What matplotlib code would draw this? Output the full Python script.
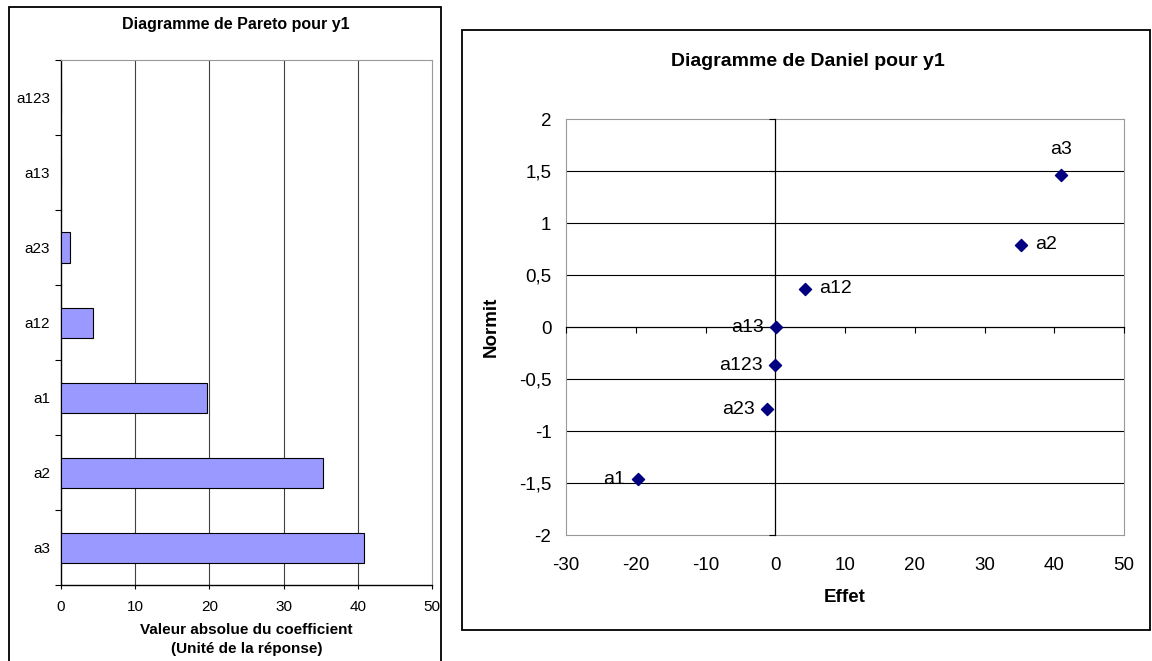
import matplotlib.pyplot as plt
from matplotlib.patches import Rectangle
from matplotlib.ticker import FuncFormatter, MultipleLocator

plt.rcParams['font.family'] = ['Liberation Sans', 'DejaVu Sans']

# Pareto chart: absolute coefficient values, bottom to top
pareto_labels = ['a3', 'a2', 'a1', 'a12', 'a23', 'a13', 'a123']
pareto_values = [40.9, 35.3, 19.7, 4.3, 1.2, 0.05, 0.0]

# Daniel chart: effects and normal scores
daniel_labels = ['a1', 'a23', 'a123', 'a13', 'a12', 'a2', 'a3']
daniel_effects = [-19.7, -1.2, 0.0, 0.1, 4.3, 35.3, 41.0]
daniel_normit = [-1.465, -0.792, -0.366, 0.0, 0.366, 0.792, 1.465]

W, H = 1152, 661
fig = plt.figure(figsize=(W / 100, H / 100), dpi=100)


def px_rect(x0, y0, x1, y1):
    return [x0 / W, 1 - y1 / H, (x1 - x0) / W, (y1 - y0) / H]


# chart boxes
for (x0, y0, x1, y1) in [(9, 7, 441, 670), (462, 30, 1150, 630)]:
    fig.patches.append(Rectangle((x0 / W, 1 - y1 / H), (x1 - x0) / W, (y1 - y0) / H,
                                 transform=fig.transFigure, fill=False,
                                 edgecolor='black', linewidth=1.3))

# ---------- Pareto ----------
ax1 = fig.add_axes(px_rect(61, 60, 432, 585))
ypos = range(len(pareto_labels))
ax1.barh(ypos, pareto_values, height=0.4, color='#9999ff', edgecolor='black',
         linewidth=0.8, zorder=3)
ax1.set_xlim(0, 50)
ax1.set_ylim(-0.5, len(pareto_labels) - 0.5)
ax1.xaxis.set_major_locator(MultipleLocator(10))
ax1.set_yticks(list(ypos))
ax1.set_yticklabels(pareto_labels)
ax1.set_yticks([i - 0.5 for i in range(len(pareto_labels) + 1)], minor=True)
ax1.tick_params(axis='y', which='major', length=0, pad=8, labelsize=11)
ax1.tick_params(axis='y', which='minor', length=4, direction='out', width=0.8)
ax1.tick_params(axis='x', length=3, direction='out', width=0.8, labelsize=11, pad=8)
for x in [10, 20, 30, 40]:
    ax1.axvline(x, color='#404040', linewidth=0.8, zorder=1)
for s in ['top', 'right']:
    ax1.spines[s].set_color('#999999')
for s in ['left', 'bottom']:
    ax1.spines[s].set_color('black')
    ax1.spines[s].set_linewidth(1.0)
ax1.set_xlabel('Valeur absolue du coefficient\n(Unité de la réponse)',
               fontsize=11, fontweight='bold', linespacing=1.5, labelpad=6)
fig.text(236 / W, 1 - 25 / H, 'Diagramme de Pareto pour y1', ha='center', va='center',
         fontsize=11.5, fontweight='bold')

# ---------- Daniel ----------
pos = px_rect(566, 119, 1124, 535)
axf = fig.add_axes(pos)
ax2 = fig.add_axes(pos, sharex=axf, sharey=axf)
axf.set_xlim(-30, 50)
axf.set_ylim(-2, 2)
axf.xaxis.set_major_locator(MultipleLocator(10))
axf.yaxis.set_major_locator(MultipleLocator(0.5))
fmt = FuncFormatter(lambda v, p: ('%g' % v).replace('.', ','))
axf.xaxis.set_major_formatter(fmt)
axf.yaxis.set_major_formatter(fmt)
axf.tick_params(length=0, labelsize=13.5)
axf.tick_params(axis='x', pad=16)
axf.tick_params(axis='y', pad=10.5)
for s in axf.spines.values():
    s.set_color('#999999')
for yv in [-1.5, -1, -0.5, 0.5, 1, 1.5]:
    axf.axhline(yv, color='black', linewidth=0.8, zorder=1)

ax2.patch.set_visible(False)
ax2.spines['left'].set_position(('data', 0))
ax2.spines['bottom'].set_position(('data', 0))
ax2.spines['top'].set_visible(False)
ax2.spines['right'].set_visible(False)
for s in ['left', 'bottom']:
    ax2.spines[s].set_linewidth(0.9)
ax2.tick_params(labelleft=False, labelbottom=False, direction='out', length=4, width=0.8)

ax2.scatter(daniel_effects, daniel_normit, marker='D', s=38, color='#000080', zorder=4)
placement = {'a3': (0, 12, 'center', 'bottom'), 'a2': (10, 0, 'left', 'center'),
             'a12': (10, 0, 'left', 'center'), 'a13': (-9, 0, 'right', 'center'),
             'a123': (-9, 0, 'right', 'center'), 'a23': (-9, 0, 'right', 'center'),
             'a1': (-9, 0, 'right', 'center')}
for lab, xv, yv in zip(daniel_labels, daniel_effects, daniel_normit):
    dx, dy, ha, va = placement[lab]
    ax2.annotate(lab, (xv, yv), xytext=(dx, dy), textcoords='offset points',
                 ha=ha, va=va, fontsize=14, zorder=5)

axf.set_xlabel('Effet', fontsize=13.5, fontweight='bold', labelpad=11)
axf.set_ylabel('Normit', fontsize=13.5, fontweight='bold', labelpad=14)
fig.text(808 / W, 1 - 61 / H, 'Diagramme de Daniel pour y1', ha='center', va='center',
         fontsize=14, fontweight='bold')

fig.savefig('out.png', dpi=100)
